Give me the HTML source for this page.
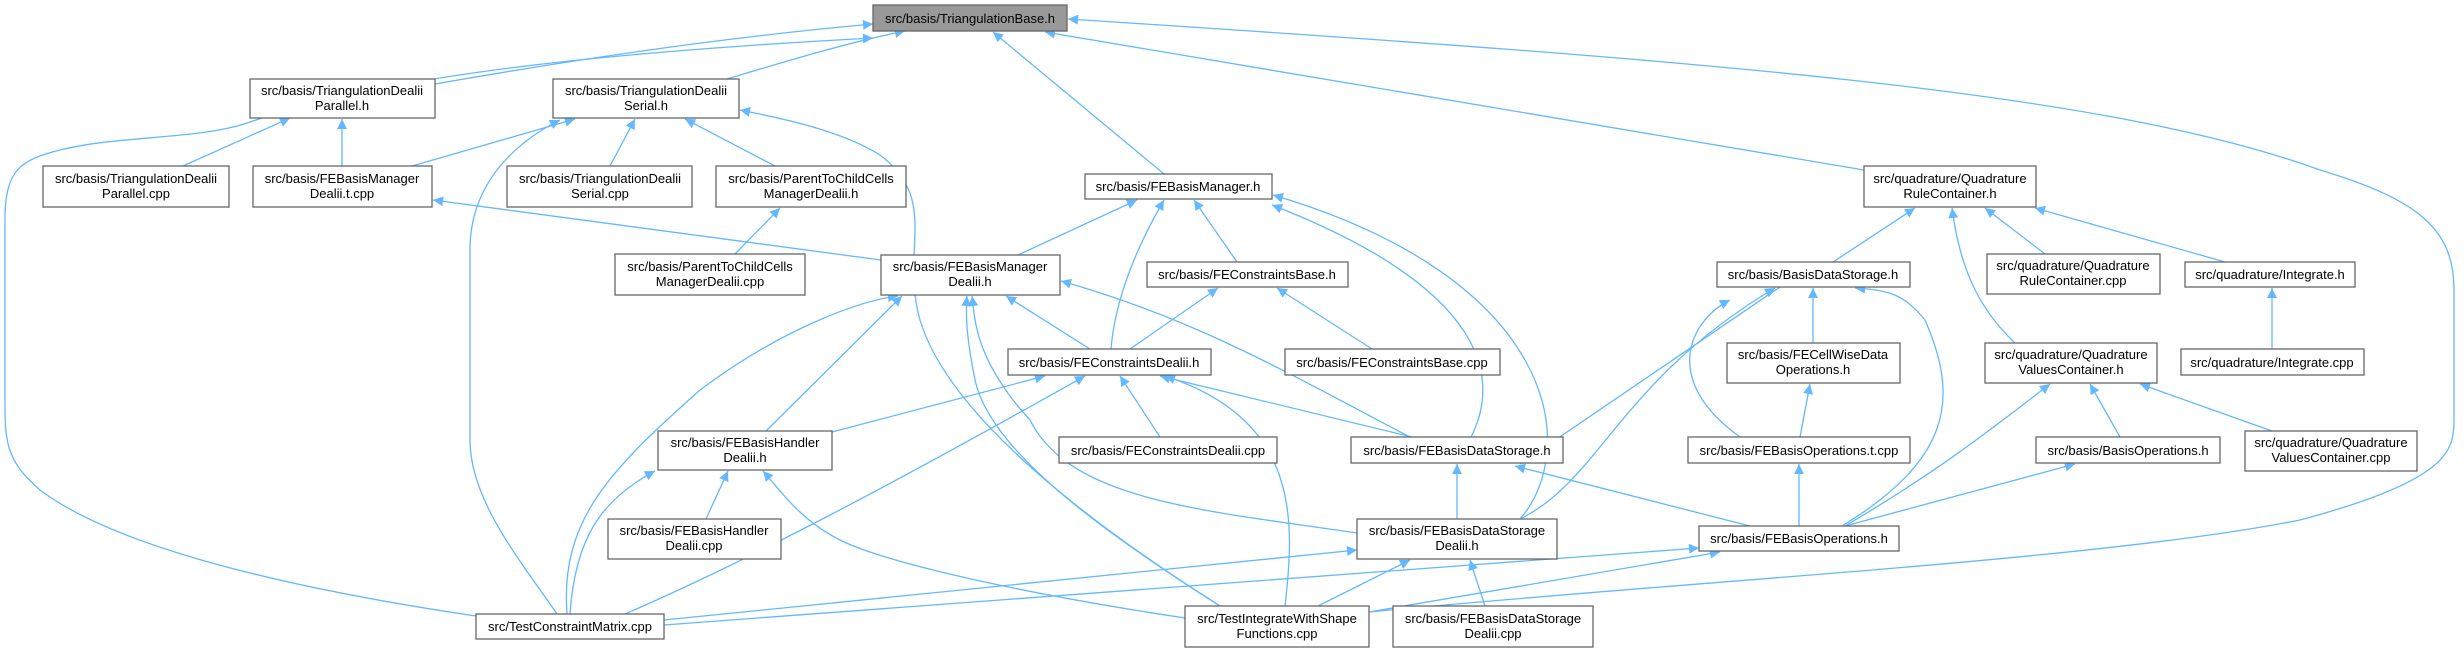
<!DOCTYPE html>
<html><head><meta charset="utf-8"><style>
html,body{margin:0;padding:0;background:#fff}
svg{display:block}
text{font-family:"Liberation Sans",sans-serif;font-size:13px;fill:#000}
.b{fill:#fff;stroke:#666;stroke-width:1.3}
.e{fill:none;stroke:#63b8ff;stroke-width:1.3}
</style></head><body>
<svg width="2464" height="652" viewBox="0 0 2464 652" xmlns="http://www.w3.org/2000/svg">
<defs><marker id="a" viewBox="0 0 10 10" refX="10" refY="5" markerWidth="11" markerHeight="10" markerUnits="userSpaceOnUse" orient="auto"><path d="M0,0L10,5L0,10z" fill="#63b8ff"/></marker></defs>
<g class="e" marker-end="url(#a)">
<!-- to root -->
<path d="M435,84 C600,55 750,35 873,24"/>
<path d="M727,79 C790,60 850,42 905,31"/>
<path d="M476,616 C300,590 120,550 40,490 C5,460 5,440 5,400 L5,220 C5,170 20,160 60,150 C120,135 200,140 250,122 C400,70 650,50 873,38"/>
<path d="M1164,174 L993,32"/>
<path d="M1864,170 L1045,32"/>
<path d="M1369,612 C1700,580 2100,560 2300,520 C2450,480 2454,450 2454,420 L2454,290 C2454,230 2420,200 2320,170 C2100,90 1700,60 1068,19"/>
<!-- TD parallel -->
<path d="M183,166 L290,118"/>
<path d="M342,166 L342,119"/>
<!-- TD serial -->
<path d="M412,166 L575,119"/>
<path d="M557,614 C520,560 470,500 470,440 L470,250 C470,180 520,140 560,120"/>
<path d="M610,166 L635,119"/>
<path d="M775,166 L685,119"/>
<path d="M1220,606 C1100,530 950,420 920,320 C900,250 940,200 880,155 C840,130 780,118 740,110"/>
<path d="M735,254 L780,208"/>
<!-- FEBM dealii t.cpp -->
<path d="M881,260 L433,200"/>
<!-- FEBM.h -->
<path d="M1018,255 L1137,200"/>
<path d="M1111,349 C1115,300 1135,250 1164,200"/>
<path d="M1237,262 L1194,200"/>
<path d="M1471,437 C1500,380 1490,290 1272,205"/>
<path d="M1520,519 C1580,450 1560,280 1273,195"/>
<!-- FEBM dealii.h -->
<path d="M567,614 C560,520 610,470 700,390 C780,330 860,300 898,296"/>
<path d="M766,431 L902,296"/>
<path d="M1220,606 C1100,530 990,450 975,380 C965,330 966,310 967,296"/>
<path d="M1357,533 C1200,510 1070,500 1030,420 C975,360 975,320 972,296"/>
<path d="M1090,349 L1006,296"/>
<path d="M1410,437 C1300,380 1200,320 1061,281"/>
<!-- FEConstraintsBase.h -->
<path d="M1130,349 L1218,288"/>
<path d="M1372,349 L1277,288"/>
<!-- FEConstraintsDealii.h -->
<path d="M832,432 L1045,376"/>
<path d="M625,614 C750,560 900,480 1085,376"/>
<path d="M1160,437 L1120,376"/>
<path d="M1412,437 L1160,376"/>
<path d="M1285,606 C1295,520 1300,420 1165,376"/>
<!-- FEBH -->
<path d="M706,519 L728,471"/>
<path d="M570,614 C575,540 600,500 655,471"/>
<path d="M1185,618 C1000,590 880,560 840,540 C800,520 780,490 763,471"/>
<!-- FEBDS.h -->
<path d="M1457,519 L1457,464"/>
<path d="M1780,287 L1520,464"/>
<path d="M1750,526 L1515,466"/>
<!-- FEBDS dealii.h -->
<path d="M664,620 L1357,550"/>
<path d="M1318,606 L1410,560"/>
<path d="M1485,606 L1470,560"/>
<path d="M1520,519 C1600,480 1620,380 1775,288"/>
<!-- FEBasisOperations.h -->
<path d="M664,625 L1699,548"/>
<path d="M1369,612 L1720,552"/>
<path d="M1799,526 L1799,464"/>
<path d="M1842,526 C1950,460 1960,400 1925,320 C1905,295 1890,290 1855,288"/>
<path d="M1845,526 C1940,470 1990,430 2050,384"/>
<path d="M1845,526 L2075,464"/>
<!-- QRC.h -->
<path d="M1833,262 L1915,208"/>
<path d="M2015,343 C1980,310 1960,270 1952,208"/>
<path d="M2045,254 L1985,208"/>
<path d="M2225,262 L2035,208"/>
<!-- BDS.h -->
<path d="M1813,343 L1813,288"/>
<path d="M1740,437 C1660,380 1690,320 1730,300"/>
<path d="M1800,437 L1810,384"/>
<path d="M2272,349 L2272,288"/>
<path d="M2120,437 L2090,384"/>
<path d="M2272,431 L2140,384"/>
</g>
<g>
<rect x="873" y="5" width="194" height="26" fill="#999" stroke="#666" stroke-width="1.3"/>
<text x="970" y="23" text-anchor="middle">src/basis/TriangulationBase.h</text>
</g>
<g text-anchor="middle">
<rect class="b" x="250" y="79" width="185" height="39"/><text x="342" y="95">src/basis/TriangulationDealii</text><text x="342" y="110">Parallel.h</text>
<rect class="b" x="553" y="79" width="186" height="39"/><text x="646" y="95">src/basis/TriangulationDealii</text><text x="646" y="110">Serial.h</text>
<rect class="b" x="43" y="166" width="186" height="41"/><text x="136" y="183">src/basis/TriangulationDealii</text><text x="136" y="198">Parallel.cpp</text>
<rect class="b" x="253" y="166" width="179" height="41"/><text x="342" y="183">src/basis/FEBasisManager</text><text x="342" y="198">Dealii.t.cpp</text>
<rect class="b" x="507" y="166" width="185" height="41"/><text x="600" y="183">src/basis/TriangulationDealii</text><text x="600" y="198">Serial.cpp</text>
<rect class="b" x="716" y="166" width="190" height="41"/><text x="811" y="183">src/basis/ParentToChildCells</text><text x="811" y="198">ManagerDealii.h</text>
<rect class="b" x="615" y="254" width="190" height="41"/><text x="710" y="271">src/basis/ParentToChildCells</text><text x="710" y="286">ManagerDealii.cpp</text>
<rect class="b" x="1085" y="174" width="187" height="25"/><text x="1178" y="191">src/basis/FEBasisManager.h</text>
<rect class="b" x="881" y="255" width="179" height="40"/><text x="970" y="271">src/basis/FEBasisManager</text><text x="970" y="286">Dealii.h</text>
<rect class="b" x="1147" y="262" width="201" height="25"/><text x="1247" y="279">src/basis/FEConstraintsBase.h</text>
<rect class="b" x="1008" y="349" width="203" height="26"/><text x="1109" y="367">src/basis/FEConstraintsDealii.h</text>
<rect class="b" x="1285" y="349" width="215" height="26"/><text x="1392" y="367">src/basis/FEConstraintsBase.cpp</text>
<rect class="b" x="658" y="431" width="174" height="39"/><text x="745" y="447">src/basis/FEBasisHandler</text><text x="745" y="462">Dealii.h</text>
<rect class="b" x="1059" y="437" width="218" height="26"/><text x="1168" y="455">src/basis/FEConstraintsDealii.cpp</text>
<rect class="b" x="1351" y="437" width="212" height="26"/><text x="1457" y="455">src/basis/FEBasisDataStorage.h</text>
<rect class="b" x="608" y="519" width="173" height="40"/><text x="694" y="535">src/basis/FEBasisHandler</text><text x="694" y="550">Dealii.cpp</text>
<rect class="b" x="1357" y="519" width="200" height="40"/><text x="1457" y="535">src/basis/FEBasisDataStorage</text><text x="1457" y="550">Dealii.h</text>
<rect class="b" x="476" y="614" width="188" height="25"/><text x="570" y="631">src/TestConstraintMatrix.cpp</text>
<rect class="b" x="1185" y="606" width="184" height="41"/><text x="1277" y="623">src/TestIntegrateWithShape</text><text x="1277" y="638">Functions.cpp</text>
<rect class="b" x="1393" y="606" width="200" height="41"/><text x="1493" y="623">src/basis/FEBasisDataStorage</text><text x="1493" y="638">Dealii.cpp</text>
<rect class="b" x="1864" y="166" width="172" height="41"/><text x="1950" y="183">src/quadrature/Quadrature</text><text x="1950" y="198">RuleContainer.h</text>
<rect class="b" x="1717" y="262" width="193" height="25"/><text x="1813" y="279">src/basis/BasisDataStorage.h</text>
<rect class="b" x="1987" y="254" width="173" height="40"/><text x="2073" y="270">src/quadrature/Quadrature</text><text x="2073" y="285">RuleContainer.cpp</text>
<rect class="b" x="2185" y="262" width="170" height="25"/><text x="2270" y="279">src/quadrature/Integrate.h</text>
<rect class="b" x="1727" y="343" width="173" height="40"/><text x="1813" y="359">src/basis/FECellWiseData</text><text x="1813" y="374">Operations.h</text>
<rect class="b" x="1985" y="343" width="172" height="40"/><text x="2071" y="359">src/quadrature/Quadrature</text><text x="2071" y="374">ValuesContainer.h</text>
<rect class="b" x="2181" y="349" width="183" height="26"/><text x="2272" y="367">src/quadrature/Integrate.cpp</text>
<rect class="b" x="1688" y="437" width="222" height="26"/><text x="1799" y="455">src/basis/FEBasisOperations.t.cpp</text>
<rect class="b" x="2036" y="437" width="184" height="26"/><text x="2128" y="455">src/basis/BasisOperations.h</text>
<rect class="b" x="2245" y="431" width="172" height="40"/><text x="2331" y="447">src/quadrature/Quadrature</text><text x="2331" y="462">ValuesContainer.cpp</text>
<rect class="b" x="1699" y="526" width="200" height="25"/><text x="1799" y="543">src/basis/FEBasisOperations.h</text>
</g>
</svg>
</body></html>
